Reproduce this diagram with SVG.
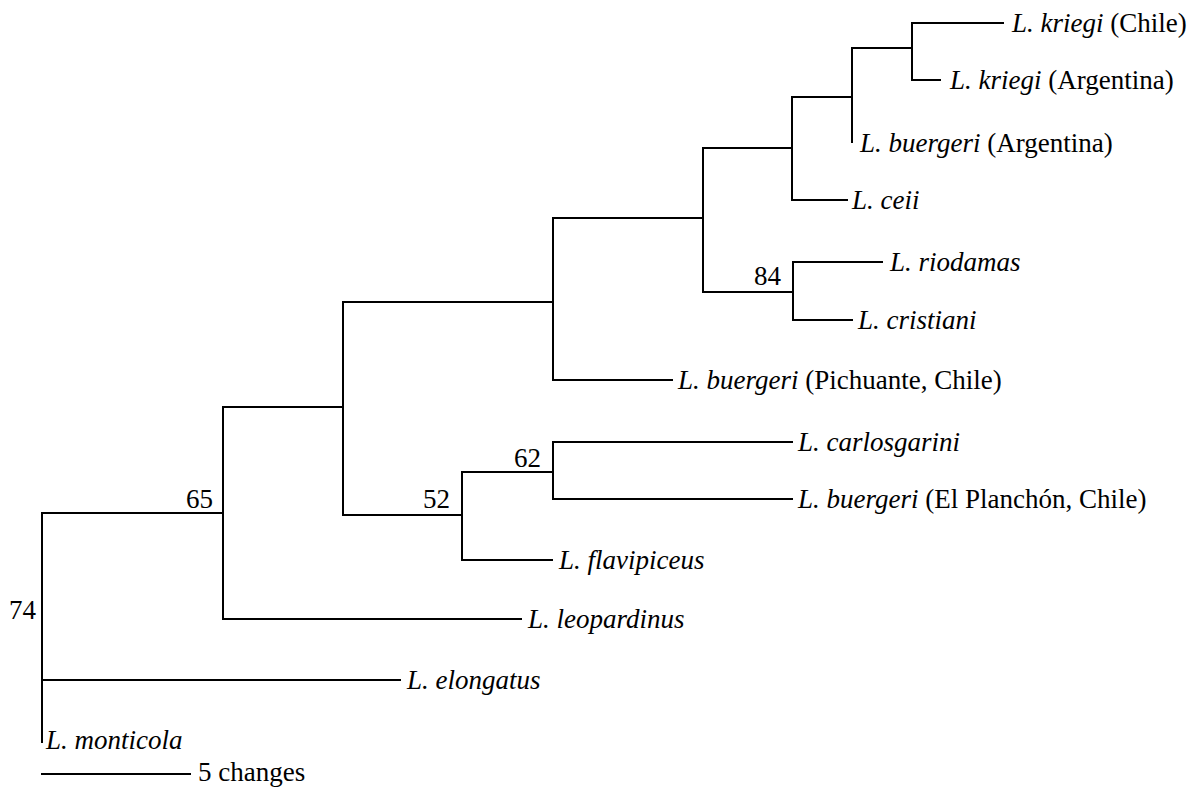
<svg xmlns="http://www.w3.org/2000/svg" width="1197" height="789" viewBox="0 0 1197 789">
<style>
.br{stroke:#000;stroke-width:2;fill:none;stroke-linecap:square}
text{font-family:"Liberation Serif","Times New Roman",serif;font-size:27px;fill:#000}
.i{font-style:italic}
.sup{text-anchor:end}
</style>
<rect width="1197" height="789" fill="#fff"/>
<g id="connectors" class="br">
<path d="M42 513V742"/>
<path d="M42 513H223"/>
<path d="M42 680H400"/>
<path d="M223 407V619"/>
<path d="M223 619H521"/>
<path d="M223 407H343"/>
<path d="M343 302V515"/>
<path d="M343 302H553"/>
<path d="M343 515H462"/>
<path d="M462 472V560"/>
<path d="M462 560H552"/>
<path d="M462 472H553"/>
<path d="M553 442V499"/>
<path d="M553 442H792"/>
<path d="M553 499H792"/>
<path d="M553 218V380"/>
<path d="M553 380H672"/>
<path d="M553 218H703"/>
<path d="M703 148V292"/>
<path d="M703 148H792"/>
<path d="M703 292H793"/>
<path d="M793 262V320"/>
<path d="M793 262H882"/>
<path d="M793 320H852"/>
<path d="M792 97V200"/>
<path d="M792 200H847"/>
<path d="M792 97H852"/>
<path d="M852 48V142"/>
<path d="M852 48H912"/>
<path d="M912 23V80"/>
<path d="M912 23H1003"/>
<path d="M912 80H940"/>
</g>
<g id="scale">
<path class="br" d="M42 774H190"/>
<text x="198" y="781">5 changes</text>
</g>
<g id="leaf-kriegi-chile"><text x="1012" y="32"><tspan class="i">L. kriegi</tspan> (Chile)</text></g>
<g id="leaf-kriegi-argentina"><text x="950" y="89"><tspan class="i">L. kriegi</tspan> (Argentina)</text></g>
<g id="leaf-buergeri-argentina"><text x="860" y="152"><tspan class="i">L. buergeri</tspan> (Argentina)</text></g>
<g id="leaf-ceii"><text x="852" y="209" class="i">L. ceii</text></g>
<g id="leaf-riodamas"><text x="890" y="271" class="i">L. riodamas</text></g>
<g id="leaf-cristiani"><text x="858" y="329" class="i">L. cristiani</text></g>
<g id="leaf-buergeri-pichuante"><text x="678" y="389"><tspan class="i">L. buergeri</tspan> (Pichuante, Chile)</text></g>
<g id="leaf-carlosgarini"><text x="798" y="451" class="i">L. carlosgarini</text></g>
<g id="leaf-buergeri-planchon"><text x="798" y="508"><tspan class="i">L. buergeri</tspan> (El Planchón, Chile)</text></g>
<g id="leaf-flavipiceus"><text x="559" y="569" class="i">L. flavipiceus</text></g>
<g id="leaf-leopardinus"><text x="528" y="628" class="i">L. leopardinus</text></g>
<g id="leaf-elongatus"><text x="407" y="689" class="i">L. elongatus</text></g>
<g id="leaf-monticola"><text x="46" y="749" class="i">L. monticola</text></g>
<g id="node-84"><text class="sup" x="781" y="285">84</text></g>
<g id="node-62"><text class="sup" x="541" y="467">62</text></g>
<g id="node-52"><text class="sup" x="450" y="508">52</text></g>
<g id="node-65"><text class="sup" x="213" y="508">65</text></g>
<g id="node-74"><text class="sup" x="36" y="619">74</text></g>
</svg>
